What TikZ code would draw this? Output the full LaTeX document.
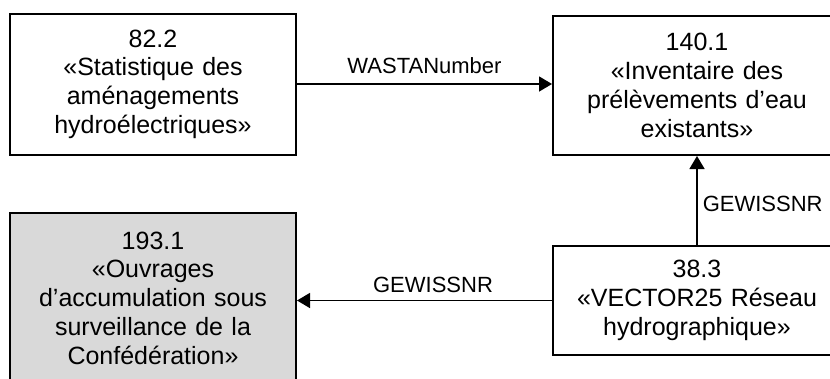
\documentclass[tikz,border=0pt]{standalone}
\usepackage{fontspec}
\setmainfont{Liberation Sans}
\usetikzlibrary{arrows.meta}
\definecolor{boxgray}{RGB}{217,217,217}
\begin{document}
\begin{tikzpicture}[x=1pt,y=-1pt,
  every node/.style={inner sep=0pt},
  entity/.style={draw=black, line width=2pt, align=center, text width=280pt,
    font=\fontsize{25}{28.75}\selectfont},
  conn/.style={draw=black, line width=1.5pt, -{Triangle[length=13pt,width=15pt]}},
  lbl/.style={font=\fontsize{22}{26}\selectfont}]
\useasboundingbox (0,0) rectangle (830,378);
\node[entity, minimum width=286pt, minimum height=141pt] (A) at (153,84)
  {82.2\\«Statistique des\\aménagements\\hydroélectriques»};
\node[entity, minimum width=288pt, minimum height=139pt] (B) at (697,85.5)
  {140.1\\«Inventaire des\\prélèvements d’eau\\existants»};
\node[entity, fill=boxgray, minimum width=286pt, minimum height=170pt] (C) at (153,298)
  {193.1\\«Ouvrages\\d’accumulation sous\\surveillance de la\\Confédération»};
\node[entity, minimum width=288pt, minimum height=109pt] (D) at (697,300.5)
  {38.3\\«VECTOR25 Réseau\\hydrographique»};
\draw[conn] (A.east) -- (A.east -| B.west)
  node[lbl, pos=0.5, anchor=base, yshift=11pt] (l1) {WASTANumber};
\draw[conn] (D.north) -- (B.south)
  node[lbl, pos=0.5, anchor=west, xshift=5pt, yshift=-3.5pt] (l2) {GEWISSNR};
\draw[conn] (D.west) -- (D.west -| C.east)
  node[lbl, pos=0.5, anchor=base, yshift=8pt, xshift=8.5pt] (l3) {GEWISSNR};
\end{tikzpicture}
\end{document}
